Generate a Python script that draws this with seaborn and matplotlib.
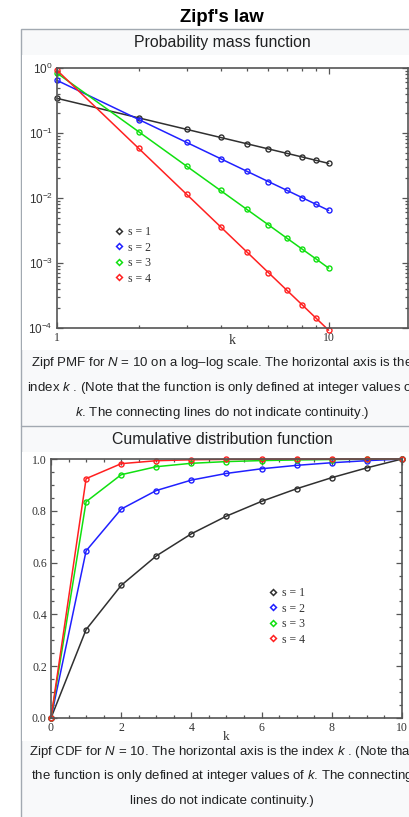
import numpy as np
import pandas as pd
import matplotlib
matplotlib.use("Agg")
import matplotlib.pyplot as plt
import seaborn as sns
from matplotlib.patches import Rectangle
from matplotlib.lines import Line2D
from matplotlib.ticker import FixedLocator, NullFormatter, FixedFormatter

# ---------------- data ----------------
k = [1, 2, 3, 4, 5, 6, 7, 8, 9, 10]
series_labels = ["s = 1", "s = 2", "s = 3", "s = 4"]
series_colors = ["#303030", "#2020ff", "#10e010", "#ff2020"]

pmf_s1 = [0.3414, 0.1707, 0.1138, 0.0854, 0.0683, 0.0569, 0.0488, 0.0427, 0.0379, 0.0341]
pmf_s2 = [0.6453, 0.1613, 0.0717, 0.0403, 0.0258, 0.0179, 0.0132, 0.0101, 0.00797, 0.00645]
pmf_s3 = [0.8350, 0.1044, 0.0309, 0.01305, 0.00668, 0.00387, 0.00243, 0.00163, 0.00115, 0.000835]
pmf_s4 = [0.9242, 0.0578, 0.01141, 0.00361, 0.001479, 0.000713, 0.000385, 0.000226, 0.000141, 0.0000924]

k_cdf = [0, 1, 2, 3, 4, 5, 6, 7, 8, 9, 10]
cdf_s1 = [0.0, 0.3414, 0.5121, 0.6259, 0.7113, 0.7796, 0.8365, 0.8853, 0.9280, 0.9659, 1.0]
cdf_s2 = [0.0, 0.6453, 0.8066, 0.8783, 0.9186, 0.9444, 0.9623, 0.9755, 0.9856, 0.9936, 1.0]
cdf_s3 = [0.0, 0.8350, 0.9394, 0.9703, 0.9834, 0.9900, 0.9939, 0.9963, 0.9980, 0.9991, 1.0]
cdf_s4 = [0.0, 0.9242, 0.9820, 0.9934, 0.9970, 0.9985, 0.9992, 0.9996, 0.9998, 0.9999, 1.0]

pmf_ticklabels_y = ["$10^{-4}$", "$10^{-3}$", "$10^{-2}$", "$10^{-1}$", "$10^{0}$"]
pmf_ticklabels_x = ["1", "10"]
cdf_ticklabels_y = ["0.0", "0.2", "0.4", "0.6", "0.8", "1.0"]
cdf_ticklabels_x = ["0", "2", "4", "6", "8", "10"]

title = "Zipf's law"
header1 = "Probability mass function"
header2 = "Cumulative distribution function"
cap1 = ["Zipf PMF for $\\mathit{N}$ = 10 on a log\u2013log scale. The horizontal axis is the",
        "index $\\mathit{k}$ . (Note that the function is only defined at integer values of",
        "$\\mathit{k}$. The connecting lines do not indicate continuity.)"]
cap2 = ["Zipf CDF for $\\mathit{N}$ = 10. The horizontal axis is the index $\\mathit{k}$ . (Note that",
        "the function is only defined at integer values of $\\mathit{k}$. The connecting",
        "lines do not indicate continuity.)"]

pmf_df = pd.DataFrame({
    "k": k * 4,
    "p": pmf_s1 + pmf_s2 + pmf_s3 + pmf_s4,
    "s": sum([[lab] * len(k) for lab in series_labels], []),
})
cdf_df = pd.DataFrame({
    "k": k_cdf * 4,
    "F": cdf_s1 + cdf_s2 + cdf_s3 + cdf_s4,
    "s": sum([[lab] * len(k_cdf) for lab in series_labels], []),
})

# ---------------- style ----------------
sns.set_theme(style="white")
plt.rcParams["font.family"] = ["Liberation Sans", "DejaVu Sans"]
plt.rcParams["mathtext.fontset"] = "custom"
plt.rcParams["mathtext.rm"] = "Liberation Sans"
plt.rcParams["mathtext.it"] = "Liberation Sans:italic"

W, H = 410, 817
fig = plt.figure(figsize=(W / 100, H / 100), dpi=100)
fig.patch.set_facecolor("white")


def fx(x):
    return x / W


def fy(y):
    return 1 - y / H


def rect(x0, y0, x1, y1, **kw):
    fig.add_artist(Rectangle((fx(x0), fy(y1)), fx(x1) - fx(x0), (y1 - y0) / H,
                             transform=fig.transFigure, **kw))


BORDER = "#a2a9b1"
BOXBG = "#f8f9fa"
TXT = "#202122"

# infobox
rect(21, 29, 440, 830, facecolor=BOXBG, edgecolor=BORDER, lw=1.0, zorder=0)
rect(22, 55, 440, 350, facecolor="white", edgecolor="none", zorder=0.5)
rect(22, 452, 440, 741, facecolor="white", edgecolor="none", zorder=0.5)
fig.add_artist(Line2D([fx(21), 1], [fy(425.5), fy(425.5)], transform=fig.transFigure,
                      color=BORDER, lw=1.0, zorder=0.6))

fig.text(fx(222), fy(17), title, ha="center", va="center", fontsize=13.4,
         fontweight="bold", color="black")
fig.text(fx(222), fy(43), header1, ha="center", va="center", fontsize=11.4, color=TXT)
fig.text(fx(222), fy(440), header2, ha="center", va="center", fontsize=11.4, color=TXT)

for i, line in enumerate(cap1):
    fig.text(fx(222), fy(363 + 25 * i), line, ha="center", va="center",
             fontsize=9.5, color=TXT)
for i, line in enumerate(cap2):
    fig.text(fx(222), fy(752 + 24.5 * i), line, ha="center", va="center",
             fontsize=9.5, color=TXT)

SERIF = ["Liberation Serif", "DejaVu Serif"]
SPINE = "#555555"
palette = dict(zip(series_labels, series_colors))


def style_axes(ax):
    ax.set_facecolor("none")
    for sp in ax.spines.values():
        sp.set_color(SPINE)
        sp.set_linewidth(1.2)
        sp.set_visible(True)
    ax.tick_params(which="both", direction="in", top=True, right=True,
                   bottom=True, left=True, color=SPINE, width=0.9,
                   labelsize=8.5, labelcolor="#333333", pad=3)
    ax.tick_params(which="major", length=4)
    ax.tick_params(which="minor", length=2.2)
    for lab in ax.get_xticklabels() + ax.get_yticklabels():
        lab.set_family(SERIF)


def fix_markers(ax):
    for ln in ax.lines:
        ln.set_markeredgecolor(ln.get_color())
        ln.set_markerfacecolor("none")


def legend(ax, anchor):
    handles = [Line2D([], [], linestyle="none", marker="D", markersize=3.0,
                      markerfacecolor="none", markeredgecolor=c, markeredgewidth=1.1)
               for c in series_colors]
    ax.legend(handles, series_labels, loc="upper left", bbox_to_anchor=anchor,
              frameon=False, borderpad=0, borderaxespad=0, handlelength=0.6,
              handletextpad=0.5, labelspacing=0.3,
              prop={"family": SERIF, "size": 8.5}, labelcolor="#333333")


# ---------------- PMF ----------------
ax1 = fig.add_axes([fx(57), fy(328), (408 - 57) / W, (328 - 68) / H])
ax1.set_zorder(2)
sns.lineplot(data=pmf_df, x="k", y="p", hue="s", palette=palette, marker="o",
             markersize=3.6, markeredgewidth=1.0,
             linewidth=1.1, ax=ax1, legend=False, clip_on=False)
fix_markers(ax1)
ax1.set_xscale("log")
ax1.set_yscale("log")
ax1.set_xlim(1, 19.6)
ax1.set_ylim(1e-4, 1)
ax1.xaxis.set_major_locator(FixedLocator([1, 10]))
ax1.xaxis.set_major_formatter(FixedFormatter(pmf_ticklabels_x))
ax1.xaxis.set_minor_locator(FixedLocator([2, 3, 4, 5, 6, 7, 8, 9]))
ax1.xaxis.set_minor_formatter(NullFormatter())
ax1.yaxis.set_major_locator(FixedLocator([1e-4, 1e-3, 1e-2, 1e-1, 1]))
ax1.yaxis.set_major_formatter(FixedFormatter(pmf_ticklabels_y))
ax1.yaxis.set_minor_locator(FixedLocator([m * 10.0 ** e for e in range(-4, 0) for m in range(2, 10)]))
ax1.yaxis.set_minor_formatter(NullFormatter())
ax1.set_ylabel("")
ax1.set_xlabel("k", family=SERIF, fontsize=10, color="#333333")
ax1.xaxis.set_label_coords(0.5, -0.025)
style_axes(ax1)
legend(ax1, ((115 - 57) / 351, (328 - 226) / 260))

# ---------------- CDF ----------------
ax2 = fig.add_axes([fx(51), fy(718), (402 - 51) / W, (718 - 459) / H])
ax2.set_zorder(2)
sns.lineplot(data=cdf_df, x="k", y="F", hue="s", palette=palette, marker="o",
             markersize=3.6, markeredgewidth=1.0,
             linewidth=1.1, ax=ax2, legend=False, clip_on=False)
fix_markers(ax2)
ax2.set_xlim(0, 10)
ax2.set_ylim(0, 1)
ax2.xaxis.set_major_locator(FixedLocator([0, 2, 4, 6, 8, 10]))
ax2.xaxis.set_major_formatter(FixedFormatter(cdf_ticklabels_x))
ax2.xaxis.set_minor_locator(FixedLocator(np.arange(0.5, 10, 0.5)))
ax2.yaxis.set_major_locator(FixedLocator([0, 0.2, 0.4, 0.6, 0.8, 1.0]))
ax2.yaxis.set_major_formatter(FixedFormatter(cdf_ticklabels_y))
ax2.yaxis.set_minor_locator(FixedLocator(np.arange(0.05, 1.0, 0.05)))
ax2.set_ylabel("")
ax2.set_xlabel("k", family=SERIF, fontsize=9.5, color="#333333")
ax2.xaxis.set_label_coords(0.5, -0.05)
style_axes(ax2)
legend(ax2, ((269 - 51) / 351, (718 - 587) / 259))

fig.savefig("out.png", dpi=100, facecolor="white")
